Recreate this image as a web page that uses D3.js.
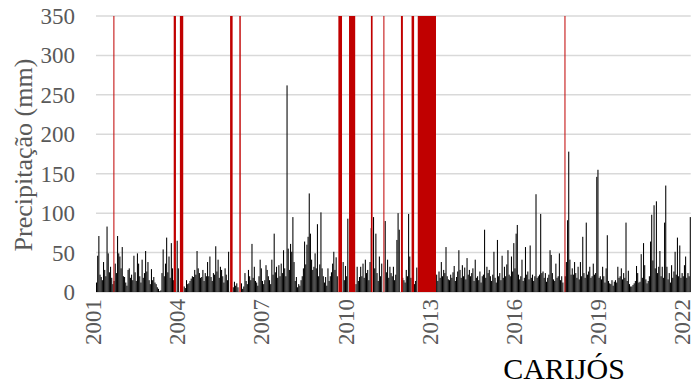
<!DOCTYPE html>
<html>
<head>
<meta charset="utf-8">
<script src="https://cdn.jsdelivr.net/npm/d3@7"></script>
<style>
  body { margin: 0; background: #fff; }
  svg { display: block; }
</style>
</head>
<body>
<svg id="chart" width="693" height="388"></svg>
<script>
// semi-monthly peak rainfall (mm), 24 slots per year
const rain2001 = [12,46,71,22,19,15,38,28,20,83,49,25,32,18,10,14,36,24,71,49,45,30,57,20];
const rain2002 = [19,12,8,28,30,18,22,15,46,25,14,49,36,20,12,41,18,24,52,26,38,15,10,29];
const rain2003 = [15,19,12,10,6,4,1,2,24,54,20,36,69,25,45,18,62,30,15,0,0,65,30,0];
const rain2004 = [0,0,0,7,5,15,10,11,14,17,20,19,28,22,52,30,24,18,19,28,14,24,20,38];
const rain2005 = [20,45,19,14,24,22,58,26,41,18,32,28,20,12,30,22,15,51,0,0,0,6,13,8];
const rain2006 = [11,6,0,0,11,4,7,24,14,10,28,20,15,61,18,32,14,12,8,20,41,30,14,10];
const rain2007 = [15,34,28,20,15,10,41,22,74,25,32,18,34,20,36,24,53,30,20,262,55,28,61,51];
const rain2008 = [95,38,14,19,6,10,8,15,20,30,64,35,60,70,125,74,41,28,32,49,30,86,20,35];
const rain2009 = [101,30,20,12,19,8,30,14,20,25,36,51,28,44,20,0,0,0,0,38,15,33,20,93];
const rain2010 = [0,0,0,0,0,0,10,32,14,19,32,20,36,18,41,24,28,15,38,81,0,95,30,74];
const rain2011 = [24,14,45,20,36,0,0,90,25,41,18,32,24,20,32,15,22,66,100,79,0,0,18,15];
const rain2012 = [12,28,20,99,45,18,0,0,10,14,31,0,0,0,0,0,0,0,0,0,0,0,0,0];
const rain2013 = [0,0,8,22,14,26,18,38,20,28,24,57,20,16,15,22,18,25,33,14,19,26,53,28];
const rain2014 = [18,34,20,31,16,43,22,28,20,24,30,14,41,18,20,15,26,12,20,22,79,18,32,24];
const rain2015 = [28,20,14,22,51,18,12,66,20,24,15,46,18,32,20,35,53,22,20,45,26,62,30,74];
const rain2016 = [85,22,16,20,41,14,18,57,22,26,16,59,18,22,14,20,124,18,20,22,99,24,26,18];
const rain2017 = [24,13,18,22,53,47,24,16,14,36,18,20,49,15,20,12,0,20,38,91,178,41,22,30];
const rain2018 = [22,38,24,18,32,16,38,20,70,24,18,88,22,26,32,18,20,36,22,24,146,155,18,20];
const rain2019 = [16,32,20,12,30,72,14,11,10,15,8,13,15,12,32,18,20,30,16,24,18,88,14,27];
const rain2020 = [10,7,7,9,11,14,33,24,12,13,48,18,62,34,16,11,14,20,64,98,40,110,30,115];
const rain2021 = [24,32,52,20,32,18,88,135,32,16,24,12,34,18,26,51,22,69,20,59,18,24,20,34];
const rain2022 = [45,18,24,20,95];

// periods without data (decimal years), drawn as full-height red bars
const gapStart = [2001.62, 2003.77, 2003.99, 2005.78, 2006.11, 2009.64, 2010.02, 2010.80, 2011.245, 2011.87, 2012.25, 2012.47, 2017.70];
const gapEnd   = [2001.62, 2003.85, 2004.11, 2005.87, 2006.16, 2009.77, 2010.24, 2010.86, 2011.275, 2011.94, 2012.34, 2013.12, 2017.70];

const yTicks = [0, 50, 100, 150, 200, 250, 300, 350];
const xTicks = [2001, 2004, 2007, 2010, 2013, 2016, 2019, 2022];
const station = "CARIJÓS";

const years = [rain2001, rain2002, rain2003, rain2004, rain2005, rain2006, rain2007,
  rain2008, rain2009, rain2010, rain2011, rain2012, rain2013, rain2014, rain2015,
  rain2016, rain2017, rain2018, rain2019, rain2020, rain2021, rain2022];

const data = [];
years.forEach((arr, k) => {
  arr.forEach((v, i) => data.push({ t: 2001 + k + i / 24, v: v }));
});

const serif = "'Liberation Serif', 'Times New Roman', serif";
const svg = d3.select("#chart");

const x = d3.scaleLinear().domain([2001, 2022.2]).range([96, 690.7]);
const y = d3.scaleLinear().domain([0, 350]).range([292, 16]);
const step = x(2001 + 1 / 24) - x(2001);

// gridlines
svg.append("g")
  .selectAll("line")
  .data(yTicks)
  .join("line")
    .attr("x1", x.range()[0])
    .attr("x2", x.range()[1])
    .attr("y1", d => y(d))
    .attr("y2", d => y(d))
    .attr("stroke", "#d9d9d9")
    .attr("stroke-width", 1.5);

// rain bars
svg.append("g")
  .selectAll("rect")
  .data(data)
  .join("rect")
    .attr("x", d => x(d.t))
    .attr("width", step * 0.9)
    .attr("y", d => y(d.v))
    .attr("height", d => y(0) - y(d.v))
    .attr("fill", "#000");

// missing data
svg.append("g")
  .selectAll("rect")
  .data(gapStart.map((s, i) => [s, gapEnd[i]]))
  .join("rect")
    .attr("x", d => x(d[0]))
    .attr("width", d => Math.max(1, x(d[1]) - x(d[0])))
    .attr("y", y(350))
    .attr("height", y(0) - y(350))
    .attr("fill", "#c00000");

// y axis labels
svg.append("g")
  .selectAll("text")
  .data(yTicks)
  .join("text")
    .attr("x", 75)
    .attr("y", d => y(d))
    .attr("dy", "0.35em")
    .attr("text-anchor", "end")
    .attr("fill", "#595959")
    .style("font", `23px ${serif}`)
    .text(d => d);

// x axis labels, rotated
svg.append("g")
  .selectAll("text")
  .data(xTicks)
  .join("text")
    .attr("transform", d => `translate(${x(d)},299) rotate(-90)`)
    .attr("dy", "0.22em")
    .attr("text-anchor", "end")
    .attr("fill", "#595959")
    .style("font", `23px ${serif}`)
    .text(d => d);

svg.append("text")
  .attr("transform", "translate(23,155) rotate(-90)")
  .attr("dy", "0.35em")
  .attr("text-anchor", "middle")
  .attr("fill", "#595959")
  .style("font", `26px ${serif}`)
  .text("Precipitação (mm)");

svg.append("text")
  .attr("x", 564)
  .attr("y", 379)
  .attr("text-anchor", "middle")
  .attr("fill", "#000")
  .style("font", `30px ${serif}`)
  .text(station);
</script>
</body>
</html>
